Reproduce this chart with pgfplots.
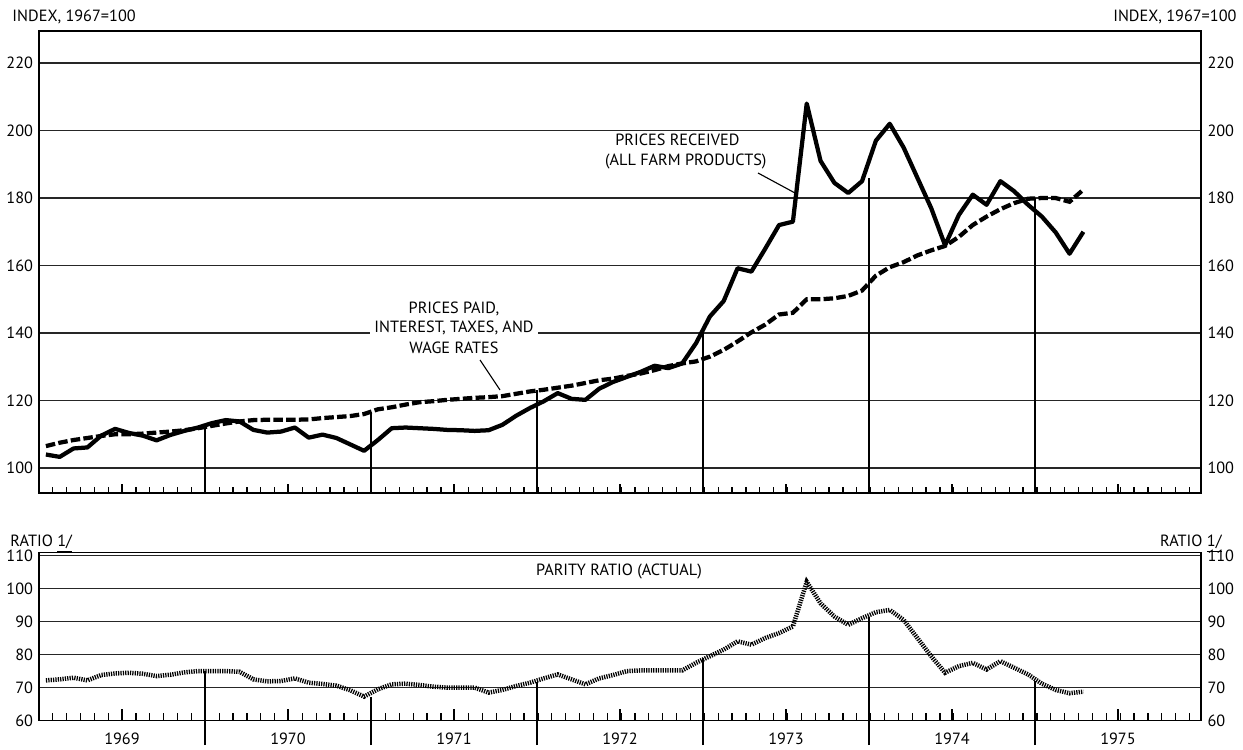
\documentclass[border=0pt]{standalone}
\usepackage{pgfplots}
\pgfplotsset{compat=1.18}
\usepackage{pgfplotstable}
\usepackage{fontspec}
\setmainfont{PT Sans}

% m = month index (1 = Jan 1969); recv = prices received; paid = prices paid; parity = parity ratio
\pgfplotstableread{
m recv paid parity
1 104.0 106.5 72.2
2 103.3 107.5 72.5
3 105.8 108.3 73.0
4 106.1 108.9 72.2
5 109.6 109.5 73.8
6 111.6 110.0 74.3
7 110.4 110.0 74.5
8 109.6 110.2 74.2
9 108.2 110.5 73.5
10 109.8 110.8 73.9
11 111.0 111.2 74.6
12 112.0 111.8 75.0
13 113.3 112.5 75.0
14 114.2 113.2 75.0
15 113.8 113.8 74.8
16 111.3 114.2 72.5
17 110.5 114.3 71.9
18 110.8 114.3 72.0
19 112.0 114.3 72.8
20 109.0 114.4 71.5
21 109.9 114.8 71.1
22 108.9 115.1 70.6
23 107.0 115.4 69.2
24 105.1 116.0 67.3
25 108.3 117.4 69.5
26 111.8 118.0 71.0
27 112.0 118.8 71.2
28 111.8 119.5 70.8
29 111.6 119.8 70.3
30 111.3 120.2 70.0
31 111.2 120.5 70.0
32 111.0 120.8 70.0
33 111.2 121.0 68.5
34 112.8 121.3 69.3
35 115.5 122.0 70.5
36 117.8 122.7 71.5
37 119.8 123.2 72.8
38 122.2 123.8 74.0
39 120.5 124.4 72.5
40 120.2 125.2 71.0
41 123.5 126.0 72.8
42 125.5 126.5 73.8
43 127.0 127.3 75.0
44 128.5 128.0 75.2
45 130.3 129.0 75.2
46 129.6 130.2 75.2
47 131.0 131.0 75.2
48 137.0 131.6 77.5
49 144.9 133.0 79.5
50 149.5 135.0 81.5
51 159.2 137.5 84.0
52 158.2 140.2 83.0
53 165.0 142.5 85.0
54 172.0 145.5 86.5
55 173.0 146.0 88.5
56 208.0 150.0 102.0
57 191.0 150.0 95.5
58 184.5 150.3 91.5
59 181.5 151.0 89.0
60 185.0 152.6 91.0
61 197.0 157.0 92.8
62 202.0 159.5 93.5
63 195.0 161.0 90.5
64 186.0 163.0 85.0
65 177.0 164.5 79.5
66 166.0 165.8 74.5
67 175.0 168.5 76.5
68 181.0 172.0 77.5
69 178.0 174.5 75.5
70 185.0 176.7 78.0
71 182.0 178.5 76.0
72 178.0 179.8 74.0
73 174.5 180.0 71.2
74 169.8 180.0 69.3
75 163.5 178.9 68.3
76 170.0 182.5 68.8
}\datatable

\pgfplotsset{
  every axis/.append style={
    font=\fontsize{6.5}{7}\selectfont,
    /pgf/number format/assume math mode=true,
    /pgf/number format/1000 sep={},
  },
  base/.style={
    scale only axis, width=464.8pt, xmin=1969, xmax=1976,
    axis line style={line width=0.55pt, black},
    ytick style={draw=none},
    ymajorgrids, grid style={line width=0.5pt, black!85},
    xtick={1969.5,1970.5,...,1975.5},
    minor xtick={1969,1969.0833333,...,1976},
    xtick pos=bottom, tick align=inside,
    every tick/.style={black, line width=0.5pt},
    yticklabel style={inner sep=2.2pt},
  },
  rightlabels/.style={
    scale only axis, width=464.8pt, xmin=1969, xmax=1976,
    axis x line=none, axis y line*=right,
    axis line style={line width=0.55pt, black},
    ytick style={draw=none},
    yticklabel style={inner sep=2.4pt},
  },
}

\begin{document}
\begin{tikzpicture}
\useasboundingbox (-15.6pt,-102.4pt) rectangle (481.6pt,197.2pt);

% ---------------- top panel ----------------
\begin{axis}[base, at={(0pt,0pt)}, anchor=south west, height=184.8pt,
  ymin=92.6, ymax=229.5, ytick={100,120,...,220},
  xticklabels={}, major tick length=3.4pt, minor tick length=2.2pt]
\addplot[black, line width=0.45pt, unbounded coords=jump] coordinates {
 (1970,92.6) (1970,112.5) (1970,nan)
 (1971,92.6) (1971,116.5) (1971,nan)
 (1972,92.6) (1972,123.0) (1972,nan)
 (1973,92.6) (1973,140.0) (1973,nan)
 (1974,92.6) (1974,186.0) (1974,nan)
 (1975,92.6) (1975,180.0)};
\addplot[black, line width=1.7pt, dash pattern=on 3.8pt off 1.3pt]
  table[x expr={1969+(\thisrow{m}-0.5)/12}, y=paid] {\datatable};
\addplot[black, line width=1.7pt, line join=round]
  table[x expr={1969+(\thisrow{m}-0.5)/12}, y=recv] {\datatable};
\end{axis}
\begin{axis}[rightlabels, at={(0pt,0pt)}, anchor=south west, height=184.8pt,
  ymin=92.6, ymax=229.5, ytick={100,120,...,220}]
\end{axis}

% ---------------- bottom panel ----------------
\begin{axis}[base, at={(0pt,-91.08pt)}, anchor=south west, height=67.2pt,
  ymin=60, ymax=110.8, ytick={60,70,...,110}, clip=false,
  xticklabels={1969,1970,1971,1972,1973,1974,1975},
  xticklabel style={yshift=-1.4pt},
  major tick length=4.6pt, minor tick length=3pt]
\addplot[black, line width=0.45pt, unbounded coords=jump] coordinates {
 (1970,52.6) (1970,75.0) (1970,nan)
 (1971,52.6) (1971,67.3) (1971,nan)
 (1972,52.6) (1972,71.8) (1972,nan)
 (1973,52.6) (1973,79.0) (1973,nan)
 (1974,52.6) (1974,91.5) (1974,nan)
 (1975,52.6) (1975,72.0)};
\addplot[black, line width=1.8pt, dash pattern=on 0.5pt off 0.45pt]
  table[x expr={1969+(\thisrow{m}-0.5)/12}, y=parity] {\datatable};
\end{axis}
\begin{axis}[rightlabels, at={(0pt,-91.08pt)}, anchor=south west, height=67.2pt,
  ymin=60, ymax=110.8, ytick={60,70,...,110}]
\end{axis}

% ---------------- texts ----------------
\begin{scope}[every node/.style={font=\fontsize{6.5}{7}\selectfont, inner sep=0pt}]
\node[anchor=base west] at (-10.8pt,188.4pt) {INDEX, 1967=100};
\node[anchor=base east] at (479.2pt,188.4pt) {INDEX, 1967=100};
\node[anchor=base west] at (-11.6pt,-21.2pt) {RATIO \underline{1/}};
\node[anchor=base east] at (473.2pt,-21.2pt) {RATIO \underline{1/}};
\node[anchor=base] at (232pt,-32.8pt) {PARITY RATIO (ACTUAL)};

\node[anchor=base, fill=white, inner sep=1.2pt] at (166pt,71.6pt) {PRICES PAID,};
\node[anchor=base, fill=white, inner sep=1.6pt] at (166pt,64pt) {INTEREST, TAXES, AND};
\node[anchor=base, fill=white, inner sep=1.2pt] at (166pt,55.6pt) {WAGE RATES};
\draw[line width=0.45pt] (176.4pt,53.2pt) -- (184.4pt,41.2pt);

\node[anchor=base east] at (280.4pt,138.8pt) {PRICES RECEIVED};
\node[anchor=base east] at (291.2pt,130.8pt) {(ALL FARM PRODUCTS)};
\draw[line width=0.45pt] (287.6pt,128pt) -- (302.4pt,120pt);
\end{scope}
\end{tikzpicture}
\end{document}
